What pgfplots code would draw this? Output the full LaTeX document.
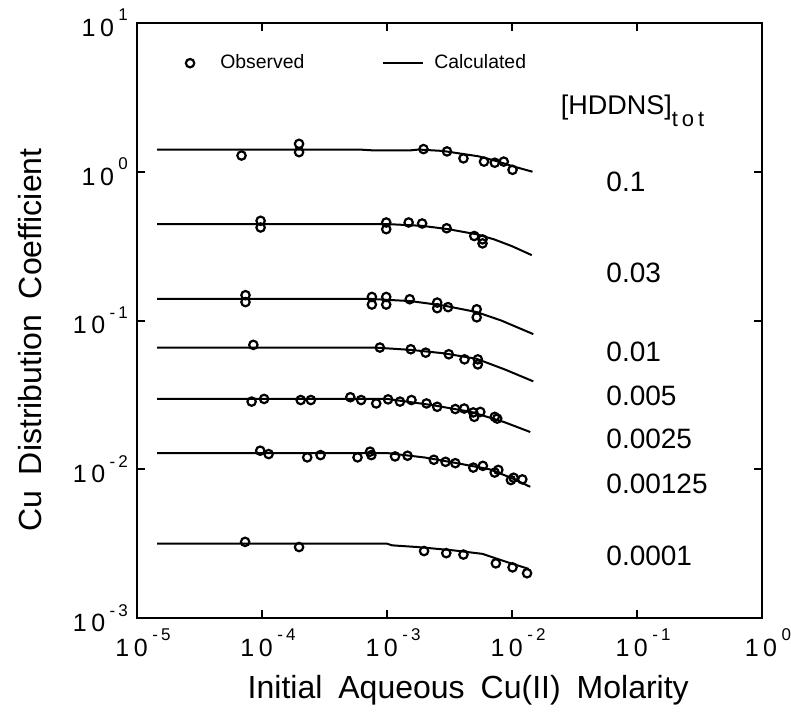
\documentclass[border=0pt]{standalone}
\usepackage{fontspec}
\setmainfont{Liberation Sans}
\usepackage{pgfplots}
\pgfplotsset{compat=1.18}

\newcommand{\dec}[1]{1\kern0.18em0\kern0.18em\raisebox{0.62em}{\fontsize{8.5}{9}\selectfont#1}}
\newcommand{\negx}[1]{-\kern0.18em#1}

% observed points (x = initial Cu(II) molarity, y = distribution coefficient)
\pgfplotstableread{
x y
6.86e-5 1.285
1.98e-4 1.54
1.98e-4 1.355
1.96e-3 1.42
3.02e-3 1.37
4.09e-3 1.23
5.97e-3 1.17
7.28e-3 1.15
8.59e-3 1.17
1.01e-2 1.03
}\obsA
\pgfplotstableread{
x y
9.75e-5 0.468
9.75e-5 0.422
9.86e-4 0.456
9.86e-4 0.411
1.49e-3 0.456
1.91e-3 0.449
3.0e-3 0.417
4.99e-3 0.370
5.81e-3 0.351
5.81e-3 0.330
}\obsB
\pgfplotstableread{
x y
7.38e-5 0.148
7.38e-5 0.133
7.57e-4 0.144
7.57e-4 0.128
9.86e-4 0.144
9.86e-4 0.128
1.52e-3 0.139
2.52e-3 0.132
2.52e-3 0.121
3.08e-3 0.123
5.22e-3 0.119
5.22e-3 0.105
}\obsC
\pgfplotstableread{
x y
8.53e-5 0.0686
8.77e-4 0.0658
1.55e-3 0.0641
2.04e-3 0.0608
3.12e-3 0.0593
4.17e-3 0.0548
5.33e-3 0.0548
5.33e-3 0.0507
}\obsD
\pgfplotstableread{
x y
8.26e-5 0.0285
1.04e-4 0.0297
2.04e-4 0.0292
2.46e-4 0.0292
5.09e-4 0.0305
6.21e-4 0.0292
8.2e-4 0.0277
1.02e-3 0.0295
1.27e-3 0.0285
1.57e-3 0.0292
2.07e-3 0.0277
2.52e-3 0.0263
3.52e-3 0.0254
4.15e-3 0.0256
4.9e-3 0.0241
4.99e-3 0.0225
5.58e-3 0.0243
7.28e-3 0.0225
7.62e-3 0.0219
}\obsE
\pgfplotstableread{
x y
9.68e-5 0.01333
1.13e-4 0.01265
2.30e-4 0.01202
2.94e-4 0.01245
5.81e-4 0.01202
7.32e-4 0.01313
7.5e-4 0.01245
1.16e-3 0.0122
1.46e-3 0.01233
2.37e-3 0.01158
2.94e-3 0.01122
3.52e-3 0.01099
4.9e-3 0.01026
5.85e-3 0.01054
7.27e-3 0.0095
7.78e-3 0.0099
9.8e-3 0.00846
1.03e-2 0.00877
1.21e-2 0.00855
}\obsF
\pgfplotstableread{
x y
7.33e-5 0.00325
1.98e-4 0.0030
1.98e-3 0.00282
2.98e-3 0.00273
4.09e-3 0.00267
7.43e-3 0.00233
1.01e-2 0.00219
1.32e-2 0.0020
}\obsG

% calculated curves
\pgfplotstableread{
x y
1.45e-5 1.41
6e-4 1.41
8e-4 1.39
1.5e-3 1.39
1.8e-3 1.41
2.8e-3 1.38
5.4e-3 1.27
7.5e-3 1.18
1.05e-2 1.08
1.46e-2 1.00
}\calA
\pgfplotstableread{
x y
1.45e-5 0.445
1e-3 0.445
1.91e-3 0.433
3.1e-3 0.411
5.2e-3 0.38
7.2e-3 0.351
1.0e-2 0.316
1.44e-2 0.275
}\calB
\pgfplotstableread{
x y
1.45e-5 0.140
7e-4 0.140
1.55e-3 0.135
2.85e-3 0.126
5.2e-3 0.114
8.2e-3 0.100
1.48e-2 0.081
}\calC
\pgfplotstableread{
x y
1.45e-5 0.0658
8e-4 0.0658
1.57e-3 0.0634
2.85e-3 0.0602
5.2e-3 0.0553
8.8e-3 0.0468
1.48e-2 0.039
}\calD
\pgfplotstableread{
x y
1.45e-5 0.0297
1e-3 0.0297
2.3e-3 0.0270
4.7e-3 0.0243
8.6e-3 0.0208
1.4e-2 0.0178
}\calE
\pgfplotstableread{
x y
1.45e-5 0.01285
1e-3 0.01285
2.0e-3 0.0120
3.4e-3 0.0111
6.6e-3 0.0100
9.8e-3 0.00877
1.4e-2 0.00762
}\calF
\pgfplotstableread{
x y
1.45e-5 0.00316
1e-3 0.00316
1.1e-3 0.00308
1.75e-3 0.0030
3.4e-3 0.00285
5.8e-3 0.0027
9.2e-3 0.00237
1.36e-2 0.00214
}\calG

\begin{document}
\begin{tikzpicture}
\begin{loglogaxis}[
    scale only axis,
    width=312.5pt, height=297.5pt,
    xmin=1e-5, xmax=1, ymin=1e-3, ymax=10,
    axis line style={line width=1.2pt},
    tick align=inside,
    major tick length=4pt,
    tick style={line width=1pt, black},
    xminorticks=false, yminorticks=false,
    xtick={1e-5,1e-4,1e-3,1e-2,1e-1,1},
    xticklabels={\dec{\negx{5}},\dec{\negx{4}},\dec{\negx{3}},\dec{\negx{2}},\dec{\negx{1}},\dec{0}},
    ytick={1e-3,1e-2,1e-1,1,10},
    yticklabels={\dec{\negx{3}},\dec{\negx{2}},\dec{\negx{1}},\dec{0},\dec{1}},
    tick label style={font=\fontsize{12.5}{14}\selectfont},
    xticklabel style={xshift=3pt, yshift=-2pt},
    yticklabel style={xshift=-1pt},
    xlabel={Initial\hspace{0.5em}Aqueous\hspace{0.5em}Cu(II)\hspace{0.5em}Molarity},
    ylabel={Cu\hspace{0.5em}Distribution\hspace{0.5em}Coefficient},
    label style={font=\fontsize{16}{19}\selectfont},
    xlabel style={at={(axis description cs:0.53,-0.121)}, anchor=center},
    ylabel style={at={(axis description cs:-0.171,0.467)}, anchor=center},
    legend columns=2,
    legend style={draw=none, fill=none,
        at={(axis description cs:0.068,0.9325)}, anchor=west,
        font=\fontsize{9.7}{11}\selectfont,
        /tikz/every even column/.append style={column sep=37pt}},
    obs/.style={only marks, mark=o, mark size=2.1pt, black,
        mark options={line width=1.1pt}},
    calc/.style={no marks, black, line width=1pt},
]
\addplot[obs] table {\obsA};
\addlegendentry{\hspace*{11pt}Observed}
\addplot[calc, legend image code/.code={\draw[line width=1pt] (0pt,0pt) -- (20pt,0pt);}] table {\calA};
\addlegendentry{\hspace*{3pt}Calculated}
\addplot[obs, forget plot] table {\obsB};
\addplot[calc, forget plot] table {\calB};
\addplot[obs, forget plot] table {\obsC};
\addplot[calc, forget plot] table {\calC};
\addplot[obs, forget plot] table {\obsD};
\addplot[calc, forget plot] table {\calD};
\addplot[obs, forget plot] table {\obsE};
\addplot[calc, forget plot] table {\calE};
\addplot[obs, forget plot] table {\obsF};
\addplot[calc, forget plot] table {\calF};
\addplot[obs, forget plot] table {\obsG};
\addplot[calc, forget plot] table {\calG};

\node[anchor=west, font=\fontsize{13.5}{15}\selectfont] at (axis cs:0.0216,2.55)
    {[HDDNS]\raisebox{-6pt}{\fontsize{11}{12}\selectfont t\kern0.18em o\kern0.18em t}};
\begin{scope}[every node/.style={anchor=west, font=\fontsize{14}{16}\selectfont}]
\node at (axis cs:0.05,0.85) {0.1};
\node at (axis cs:0.05,0.21) {0.03};
\node at (axis cs:0.05,0.062) {0.01};
\node at (axis cs:0.05,0.031) {0.005};
\node at (axis cs:0.05,0.016) {0.0025};
\node at (axis cs:0.05,0.008) {0.00125};
\node at (axis cs:0.05,0.0026) {0.0001};
\end{scope}
\coordinate (sw) at (rel axis cs:0,0);
\coordinate (ne) at (rel axis cs:1,1);
\end{loglogaxis}
\pgfresetboundingbox
\path[use as bounding box] ([xshift=-68.5pt,yshift=-50.5pt]sw) rectangle ([xshift=14.5pt,yshift=11.5pt]ne);
\end{tikzpicture}
\end{document}
